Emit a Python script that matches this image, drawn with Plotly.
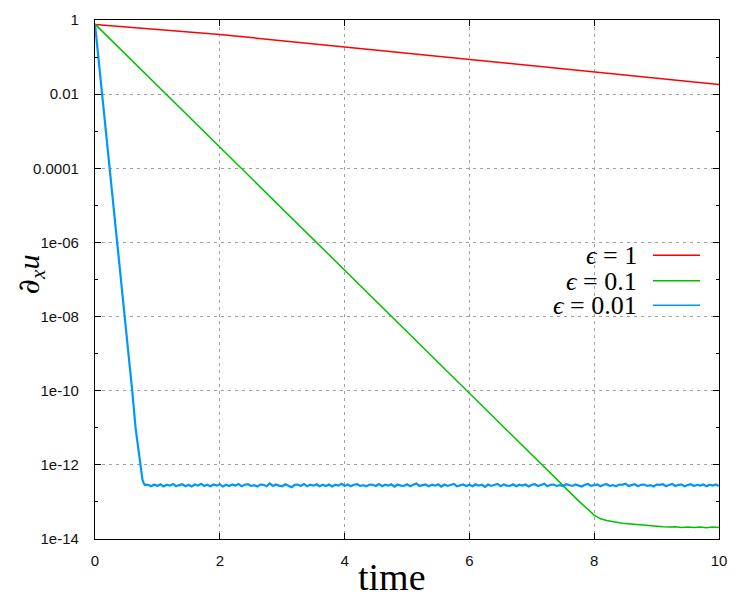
import plotly.graph_objects as go

# ---------------- data ----------------
red_t = [0, 1, 2, 4, 6, 8, 10]
red_v = [0.759, 0.569, 0.407, 0.188, 0.0871, 0.0398, 0.0182]

green_t = [0, 1, 2, 3, 4, 5, 6, 7, 7.5, 7.75,
           8.0, 8.1, 8.2, 8.3, 8.4, 8.5, 8.6, 8.7, 8.8, 8.9,
           9.0, 9.1, 9.2, 9.3, 9.4, 9.5, 9.6, 9.7, 9.8, 9.9, 10.0]
green_v = [0.776, 1.70e-2, 3.7e-4, 8.1e-6, 1.78e-7, 3.9e-9, 8.5e-11, 1.86e-12, 2.75e-13, 1.07e-13,
           4.4e-14, 3.5e-14, 3.15e-14, 2.9e-14, 2.75e-14, 2.6e-14, 2.5e-14, 2.4e-14, 2.35e-14, 2.25e-14,
           2.2e-14, 2.15e-14, 2.1e-14, 2.15e-14, 2.05e-14, 2.1e-14, 2.05e-14, 2.1e-14, 2.0e-14, 2.1e-14, 2.05e-14]

blue_head_t = [0, 0.1, 0.2, 0.3, 0.4, 0.5, 0.6, 0.65, 0.7, 0.73, 0.76, 0.78, 0.8]
blue_head_v = [0.78, 1.8e-2, 4.4e-4, 1.05e-5, 2.2e-7, 4.5e-9, 8.7e-11, 1.0e-11, 1.95e-12,
               1.0e-12, 4.0e-13, 3.2e-13, 2.9e-13]

blue_floor_start = 0.85
blue_floor_step = 0.05
blue_floor_v = [
    2.90e-13, 2.65e-13, 2.95e-13, 2.70e-13, 3.00e-13, 2.60e-13, 2.90e-13, 2.75e-13, 3.05e-13, 2.65e-13,
    2.85e-13, 3.00e-13, 2.65e-13, 2.90e-13, 2.60e-13, 2.95e-13, 2.75e-13, 3.10e-13, 2.70e-13, 2.90e-13,
    2.65e-13, 2.95e-13, 2.75e-13, 3.00e-13, 2.60e-13, 2.90e-13, 2.70e-13, 2.95e-13, 2.75e-13, 3.05e-13,
    2.65e-13, 2.90e-13, 3.00e-13, 2.70e-13, 2.85e-13, 2.60e-13, 2.95e-13, 2.90e-13, 2.65e-13, 3.15e-13,
    2.70e-13, 2.95e-13, 2.75e-13, 2.65e-13, 3.00e-13, 2.75e-13, 2.50e-13, 2.90e-13, 2.95e-13, 2.70e-13,
    3.05e-13, 2.65e-13, 2.90e-13, 2.75e-13, 3.00e-13, 2.65e-13, 2.90e-13, 2.70e-13, 2.95e-13, 2.60e-13,
    2.90e-13, 2.75e-13, 3.10e-13, 2.70e-13, 2.95e-13, 2.65e-13, 2.90e-13, 3.00e-13, 2.70e-13, 2.85e-13,
    2.65e-13, 2.95e-13, 2.90e-13, 2.70e-13, 3.05e-13, 2.65e-13, 2.90e-13, 2.75e-13, 3.00e-13, 2.60e-13,
    2.95e-13, 2.75e-13, 2.70e-13, 3.00e-13, 2.65e-13, 2.90e-13, 3.15e-13, 2.70e-13, 2.85e-13, 2.95e-13,
    2.65e-13, 2.90e-13, 2.75e-13, 3.00e-13, 2.60e-13, 2.95e-13, 2.70e-13, 2.90e-13, 3.05e-13, 2.65e-13,
    2.85e-13, 2.95e-13, 2.70e-13, 2.90e-13, 2.65e-13, 3.00e-13, 2.75e-13, 2.90e-13, 2.55e-13, 2.95e-13,
    2.70e-13, 2.90e-13, 3.05e-13, 2.65e-13, 2.95e-13, 2.75e-13, 2.70e-13, 3.00e-13, 2.65e-13, 2.90e-13,
    2.75e-13, 2.95e-13, 2.60e-13, 2.90e-13, 3.00e-13, 2.70e-13, 2.85e-13, 3.10e-13, 2.65e-13, 2.90e-13,
    2.95e-13, 2.70e-13, 2.85e-13, 2.65e-13, 3.00e-13, 2.90e-13, 2.70e-13, 2.95e-13, 2.75e-13, 2.60e-13,
    2.90e-13, 3.05e-13, 2.70e-13, 2.85e-13, 2.95e-13, 2.65e-13, 2.90e-13, 3.00e-13, 2.70e-13, 2.85e-13,
    2.65e-13, 2.95e-13, 2.90e-13, 3.10e-13, 2.70e-13, 2.85e-13, 3.00e-13, 2.65e-13, 2.90e-13, 2.95e-13,
    2.70e-13, 2.85e-13, 2.60e-13, 2.95e-13, 2.90e-13, 3.00e-13, 2.65e-13, 2.85e-13, 3.05e-13, 2.70e-13,
    2.90e-13, 2.95e-13, 2.65e-13, 2.85e-13, 3.00e-13, 2.70e-13, 2.90e-13, 2.75e-13, 2.95e-13, 2.65e-13,
    2.90e-13, 2.75e-13, 2.95e-13, 2.70e-13,
]

x_ticks = [0, 2, 4, 6, 8, 10]
y_ticks = [1, 1e-2, 1e-4, 1e-6, 1e-8, 1e-10, 1e-12, 1e-14]
y_ticktext = ["1", "0.01", "0.0001", "1e-06", "1e-08", "1e-10", "1e-12", "1e-14"]
y_minor = [1e-1, 1e-3, 1e-5, 1e-7, 1e-9, 1e-11, 1e-13]

labels = ["<i>ϵ</i> = 1", "<i>ϵ</i> = 0.1", "<i>ϵ</i> = 0.01"]
colors = ["#ff0000", "#00c000", "#0096ff"]
widths = [1.5, 1.5, 2.2]

# ---------------- figure ----------------
blue_floor_t = [round(blue_floor_start + i * blue_floor_step, 2) for i in range(len(blue_floor_v))]
blue_t = blue_head_t + blue_floor_t
blue_v = blue_head_v + blue_floor_v

series = [(red_t, red_v), (green_t, green_v), (blue_t, blue_v)]

fig = go.Figure()
for (t, v), name, c, w in zip(series, labels, colors, widths):
    fig.add_trace(go.Scatter(x=t, y=v, mode="lines", name=name,
                             line=dict(color=c, width=w), showlegend=False))

axis_common = dict(
    ticks="inside", ticklen=6, tickwidth=1, tickcolor="black",
    showline=True, linecolor="black", linewidth=1.2, mirror="ticks",
    showgrid=True, gridcolor="#a0a0a0", griddash="3px,4px", gridwidth=1,
    zeroline=False, automargin=False,
    tickfont=dict(family="Liberation Sans", size=15, color="#111111"),
)

fig.update_xaxes(range=[0, 10], tickvals=x_ticks, ticklabelstandoff=8, **axis_common)
fig.update_yaxes(type="log", range=[-14, 0], tickvals=y_ticks, ticktext=y_ticktext,
                 ticklabelstandoff=12,
                 minor=dict(tickvals=y_minor, ticks="inside", ticklen=3,
                            tickcolor="black", tickwidth=1, showgrid=False),
                 **axis_common)

# legend (gnuplot style: right-aligned text, sample line to the right)
leg_y = [0.5466, 0.4977, 0.4503]
for lab, c, yy in zip(labels, colors, leg_y):
    fig.add_annotation(x=0.872, y=yy, xref="paper", yref="paper", text=lab,
                       showarrow=False, xanchor="right", yanchor="middle",
                       height=24, valign="middle",
                       font=dict(family="Liberation Serif", size=26, color="black"))
    fig.add_shape(type="line", xref="paper", yref="paper", x0=0.894, x1=0.9696,
                  y0=yy, y1=yy, line=dict(color=c, width=1.5))

# axis titles
fig.add_annotation(x=0.476, y=-0.1175, xref="paper", yref="paper", text="time",
                   showarrow=False, xanchor="center", yanchor="bottom",
                   font=dict(family="Liberation Serif", size=38, color="black"))
fig.add_annotation(x=-0.104, y=0.51, xref="paper", yref="paper",
                   text="<span style='font-family:DejaVu Serif'>∂</span><i><sub>x</sub>u</i>",
                   textangle=-90,
                   showarrow=False, xanchor="center", yanchor="middle",
                   font=dict(family="Liberation Serif", size=30, color="black"))

# the page body adds an 8px offset, so the figure is sized to 742x592
fig.update_layout(
    width=742, height=592,
    margin=dict(l=87, r=31, t=12, b=61, autoexpand=False),
    plot_bgcolor="white", paper_bgcolor="white",
)

fig.write_html("out.html")
